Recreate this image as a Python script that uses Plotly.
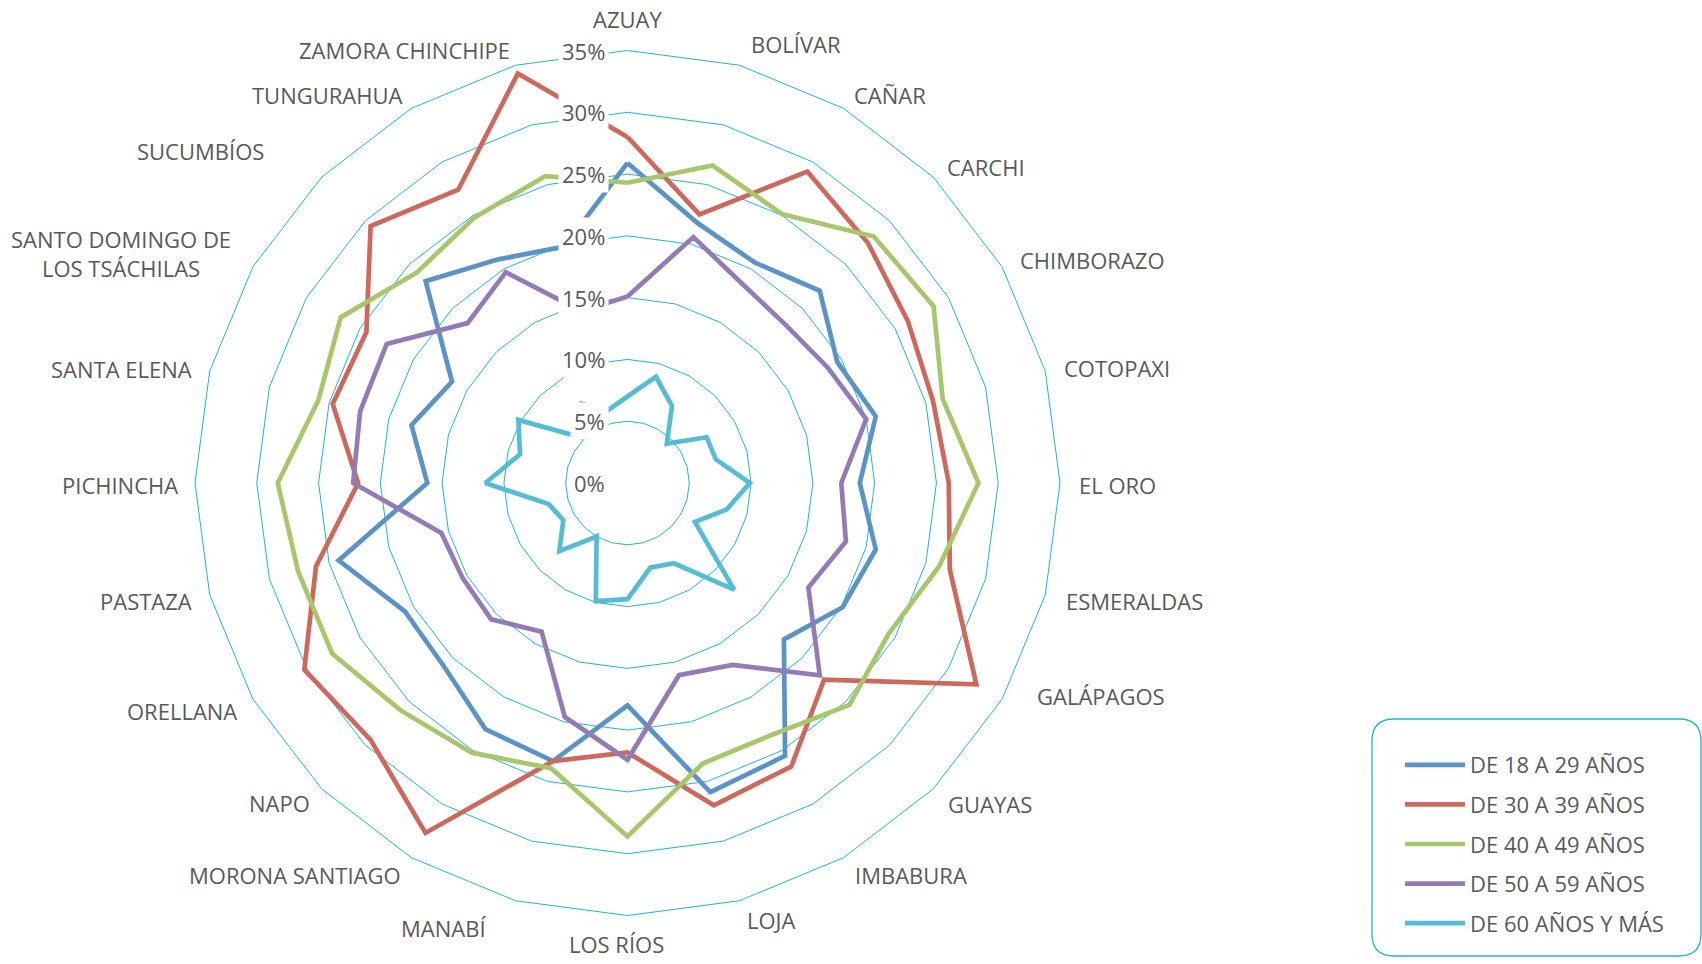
import plotly.graph_objects as go

W, H = 1702, 964
FONT = "Open Sans"
FS = 22
TXT = "#595959"
GRID = "#22B2D2"

provinces = ["AZUAY", "BOLÍVAR", "CAÑAR", "CARCHI", "CHIMBORAZO", "COTOPAXI", "EL ORO",
             "ESMERALDAS", "GALÁPAGOS", "GUAYAS", "IMBABURA", "LOJA", "LOS RÍOS", "MANABÍ",
             "MORONA SANTIAGO", "NAPO", "ORELLANA", "PASTAZA", "PICHINCHA", "SANTA ELENA",
             "SANTO DOMINGO DE<br>LOS TSÁCHILAS", "SUCUMBÍOS", "TUNGURAHUA", "ZAMORA CHINCHIPE"]

age_18_29 = [25.9, 21.8, 20.6, 22.0, 19.6, 20.8, 18.8, 20.8, 20.1, 17.9, 25.5, 25.9,
             18.0, 23.3, 23.0, 21.0, 20.8, 24.2, 16.2, 18.1, 16.4, 23.1, 20.9, 19.8]
age_30_39 = [28.0, 22.5, 29.1, 27.5, 26.2, 25.6, 26.0, 27.0, 32.6, 22.5, 26.5, 27.0,
             21.8, 23.3, 32.7, 29.4, 30.2, 26.1, 21.8, 24.7, 24.4, 29.4, 27.4, 34.3]
age_40_49 = [24.3, 26.6, 25.1, 28.2, 28.6, 26.4, 28.4, 26.1, 24.4, 25.4, 23.5, 23.5,
             28.6, 23.9, 25.2, 26.0, 27.6, 27.6, 28.3, 25.9, 26.8, 24.1, 24.8, 25.7]
age_50_59 = [15.1, 20.6, 18.6, 18.1, 18.7, 20.0, 17.3, 18.3, 16.9, 22.0, 17.0, 16.1,
             22.4, 19.6, 13.9, 15.6, 15.4, 15.6, 22.2, 22.4, 22.5, 18.3, 19.7, 14.4]
age_60_plus = [7.0, 8.9, 7.2, 4.5, 7.4, 7.4, 9.9, 8.3, 6.3, 12.2, 7.5, 7.1,
               9.4, 9.9, 5.0, 7.8, 6.0, 6.6, 11.5, 9.0, 10.2, 5.2, 7.4, 6.1]

series_names = ["DE 18 A 29 AÑOS", "DE 30 A 39 AÑOS", "DE 40 A 49 AÑOS",
                "DE 50 A 59 AÑOS", "DE 60 AÑOS Y MÁS"]
series_values = [age_18_29, age_30_39, age_40_49, age_50_59, age_60_plus]
series_colors = ["#5B93C7", "#CD685C", "#A8C66C", "#927CB6", "#56BCD4"]

tick_values = [0, 5, 10, 15, 20, 25, 30, 35]
tick_labels = ["0%", "5%", "10%", "15%", "20%", "25%", "30%", "35%"]
r_max = 35

# layout positions (pixels) of the category labels, as placed in the original
label_centers_px = [(627, 19), (796, 44), (890, 95), (986, 167), (1092, 260), (1117, 368),
                    (1117, 485), (1134, 601), (1101, 696), (990, 804), (911, 875), (771, 920),
                    (616, 944), (443, 928), (295, 875), (279, 803), (182, 711), (146, 601),
                    (120, 485), (121, 369), (121, 254), (200, 151), (327, 95), (404, 50)]

# polar area (pixels)
px0, px1 = 195, 1060
py0, py1 = 50.5, 915.5
cx, cy = (px0 + px1) / 2, (py0 + py1) / 2
R = (px1 - px0) / 2

fig = go.Figure()
for name, vals, col in zip(series_names, series_values, series_colors):
    fig.add_trace(go.Scatterpolar(
        r=vals + vals[:1], theta=provinces + provinces[:1], mode="lines",
        name=name, legendgroup=name,
        line=dict(color=col, width=4.7),
        hoverinfo="skip"))

annotations = []
for v, lab in zip(tick_values, tick_labels):
    ypx = cy - v / r_max * R
    annotations.append(dict(
        x=(cx - 19) / W, y=1 - ypx / H, xref="paper", yref="paper",
        xanchor="right", yanchor="middle", text=lab, showarrow=False,
        bgcolor="white", borderpad=3,
        font=dict(family=FONT, size=FS, color=TXT)))

for lab, (lx, ly) in zip(provinces, label_centers_px):
    annotations.append(dict(
        x=lx / W, y=1 - ly / H, xref="paper", yref="paper",
        xanchor="center", yanchor="middle", align="center", text=lab, showarrow=False,
        font=dict(family=FONT, size=FS, color=TXT)))


def rounded_rect(x0, y0, x1, y1, r):
    def P(x, y):
        return f"{x / W:.6f},{1 - y / H:.6f}"
    return (f"M {P(x0 + r, y0)} L {P(x1 - r, y0)} Q {P(x1, y0)} {P(x1, y0 + r)} "
            f"L {P(x1, y1 - r)} Q {P(x1, y1)} {P(x1 - r, y1)} "
            f"L {P(x0 + r, y1)} Q {P(x0, y1)} {P(x0, y1 - r)} "
            f"L {P(x0, y0 + r)} Q {P(x0, y0)} {P(x0 + r, y0)} Z")


fig.update_layout(
    width=W, height=H,
    margin=dict(l=0, r=0, t=0, b=0),
    paper_bgcolor="white",
    font=dict(family=FONT, size=FS, color=TXT),
    polar=dict(
        domain=dict(x=[px0 / W, px1 / W], y=[1 - py1 / H, 1 - py0 / H]),
        bgcolor="white",
        gridshape="linear",
        radialaxis=dict(range=[0, r_max], tickvals=tick_values, showticklabels=False,
                        ticks="", showline=False, gridcolor=GRID, gridwidth=1),
        angularaxis=dict(type="category", categoryarray=provinces,
                         direction="clockwise", rotation=90,
                         showgrid=False, showline=True, linecolor=GRID, linewidth=1,
                         ticks="", showticklabels=False),
    ),
    legend=dict(x=1400 / W, y=1 - 744 / H, xanchor="left", yanchor="top",
                bgcolor="rgba(0,0,0,0)", borderwidth=0, itemwidth=60,
                tracegroupgap=8,
                font=dict(family=FONT, size=FS, color=TXT)),
    annotations=annotations,
    shapes=[dict(type="path", xref="paper", yref="paper",
                 path=rounded_rect(1372, 719, 1701, 956, 22),
                 line=dict(color=GRID, width=1.3), fillcolor="rgba(0,0,0,0)")],
)

fig.write_html("out.html",
               config={"displayModeBar": False},
               post_script="document.body.style.margin='0px';"
                           "document.body.style.overflow='hidden';")
